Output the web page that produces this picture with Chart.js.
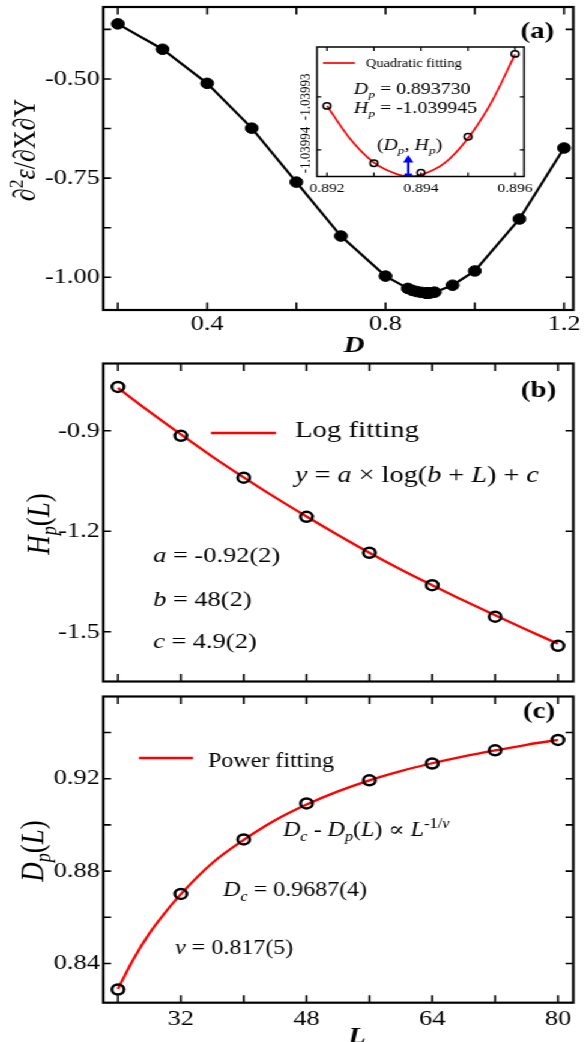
<!DOCTYPE html>
<html lang="en">
<head>
<meta charset="utf-8">
<title>Mixed derivative minimum and finite-size scaling</title>
<script src="https://cdn.jsdelivr.net/npm/chart.js@4.4.1/dist/chart.umd.min.js"></script>
<style>
  html, body { margin: 0; padding: 0; background: #fff; overflow: hidden; }
  /* the source figure is a bit wider than tall, so the whole drawing is stretched */
  #stage { position: relative; width: 488px; height: 1042px; transform: scaleX(1.20082); transform-origin: 0 0; }
  #stage canvas { position: absolute; }
</style>
</head>
<body>
<div id="stage">
  <canvas id="panel-a"></canvas>
  <canvas id="panel-inset"></canvas>
  <canvas id="panel-b"></canvas>
  <canvas id="panel-c"></canvas>
</div>
<script>
// Panel (a): d2E/dXdY against D
const dValues = [0.2, 0.3, 0.4, 0.5, 0.6, 0.7, 0.8, 0.85, 0.86, 0.87, 0.88, 0.89, 0.892, 0.893, 0.894, 0.895, 0.896, 0.90, 0.91, 0.95, 1.0, 1.1, 1.2];
const mixedDeriv = [-0.361, -0.425, -0.511, -0.624, -0.760, -0.896, -0.997, -1.028, -1.033, -1.036, -1.038, -1.0398, -1.03993, -1.03994, -1.03994, -1.03994, -1.03992, -1.0396, -1.0375, -1.020, -0.984, -0.853, -0.674];
const aXTicks = [0.2, 0.4, 0.6, 0.8, 1.0, 1.2];
const aXLabels = ['0.4', '0.8', '1.2'];
const aYTicks = [-1.0, -0.875, -0.75, -0.625, -0.5, -0.375];
const aYLabels = ['-0.50', '-0.75', '-1.00'];

// Inset: points around the minimum and the quadratic fit
const insetD = [0.892, 0.893, 0.894, 0.895, 0.896];
const insetH = [-1.0399317, -1.0399425, -1.0399443, -1.0399375, -1.0399219];
const quadD = [0.892, 0.8925, 0.893, 0.8935, 0.89373, 0.894, 0.8945, 0.895, 0.8955, 0.896];
const quadH = [-1.0399317, -1.0399380, -1.0399424, -1.0399446, -1.0399450, -1.0399447, -1.0399425, -1.0399378, -1.0399310, -1.0399220];
const peakD = [0.89373, 0.89373];
const peakH = [-1.039945, -1.0399419];
const insetXTicks = [0.892, 0.893, 0.894, 0.895, 0.896];
const insetXLabels = ['0.892', '0.894', '0.896'];
const insetYLabels = ['-1.03993', '-1.03994'];

// Panels (b) and (c): peak height and position against L
const sizes = [24, 32, 40, 48, 56, 64, 72, 80];
const hPeak = [-0.769, -0.915, -1.040, -1.157, -1.264, -1.361, -1.455, -1.542];
const dPeak = [0.8287, 0.8701, 0.8937, 0.9093, 0.9193, 0.9266, 0.9323, 0.9368];
const logFitL = [24, 28, 32, 36, 40, 44, 48, 52, 56, 60, 64, 68, 72, 76, 80];
const logFitH = [-0.772, -0.843, -0.911, -0.977, -1.039, -1.099, -1.156, -1.211, -1.264, -1.314, -1.361, -1.407, -1.451, -1.494, -1.536];
const powFitL = [24, 26, 28, 30, 32, 36, 40, 44, 48, 52, 56, 60, 64, 68, 72, 76, 80];
const powFitD = [0.829, 0.842, 0.853, 0.862, 0.870, 0.8835, 0.8935, 0.902, 0.9088, 0.9145, 0.9193, 0.9233, 0.9267, 0.9297, 0.9323, 0.9347, 0.9368];
const lTicks = [24, 32, 40, 48, 56, 64, 72, 80];
const lLabels = ['32', '48', '64', '80'];
const bYLabels = ['-0.9', '-1.2', '-1.5'];
const cYTicks = [0.84, 0.86, 0.88, 0.90, 0.92, 0.94];
const cYLabels = ['0.84', '0.88', '0.92'];

const SX = 586 / 488;
const SERIF = '"Liberation Serif", "Times New Roman", "DejaVu Serif", serif';
const RED = '#ff0000';

function pts(xs, ys) {
  return xs.map((x, i) => ({ x: x, y: ys[i] }));
}

// text made of runs: style letters i = italic, b = bold, _ = subscript, ^ = superscript
function drawRich(ctx, runs, x, y, size, align) {
  let width = 0;
  const parts = runs.map(([text, st = '']) => {
    const small = st.includes('_') || st.includes('^');
    const s = small ? size * 0.68 : size;
    const dy = st.includes('_') ? size * 0.24 : (st.includes('^') ? -size * 0.4 : 0);
    const f = (st.includes('i') ? 'italic ' : '') + (st.includes('b') ? 'bold ' : '') + s + 'px ' + SERIF;
    ctx.font = f;
    const part = { text: text, font: f, dx: width, dy: dy };
    width += ctx.measureText(text).width;
    return part;
  });
  const x0 = align === 'center' ? x - width / 2 : (align === 'right' ? x - width : x);
  ctx.textAlign = 'left';
  ctx.textBaseline = 'alphabetic';
  ctx.fillStyle = '#000';
  parts.forEach(p => {
    ctx.font = p.font;
    ctx.fillText(p.text, x0 + p.dx, y + p.dy);
  });
}

function drawRotated(ctx, runs, x, y, size) {
  ctx.save();
  ctx.translate(x, y);
  ctx.rotate(-Math.PI / 2);
  drawRich(ctx, runs, 0, 0, size, 'center');
  ctx.restore();
}

function legendLine(ctx, x1, x2, y, width) {
  ctx.save();
  ctx.strokeStyle = RED;
  ctx.lineWidth = width;
  ctx.beginPath();
  ctx.moveTo(x1, y);
  ctx.lineTo(x2, y);
  ctx.stroke();
  ctx.restore();
}

// box with inward ticks on all four sides, plus tick labels
function drawFrame(chart, st, axes) {
  const { ctx, chartArea: a } = chart;
  const x = chart.scales.x, y = chart.scales.y;
  ctx.save();
  ctx.strokeStyle = '#000';
  ctx.lineWidth = st.tickWidth;
  ctx.beginPath();
  x.ticks.forEach(t => {
    const px = x.getPixelForValue(t.value);
    ctx.moveTo(px, a.bottom); ctx.lineTo(px, a.bottom - st.tickV);
    ctx.moveTo(px, a.top); ctx.lineTo(px, a.top + st.tickV);
  });
  y.ticks.forEach(t => {
    const py = y.getPixelForValue(t.value);
    ctx.moveTo(a.left, py); ctx.lineTo(a.left + st.tickH, py);
    ctx.moveTo(a.right, py); ctx.lineTo(a.right - st.tickH, py);
  });
  ctx.stroke();
  ctx.lineWidth = st.frameWidth;
  ctx.strokeRect(a.left, a.top, a.right - a.left, a.bottom - a.top);

  ctx.fillStyle = '#000';
  ctx.font = st.labelSize + 'px ' + SERIF;
  ctx.textAlign = 'center';
  ctx.textBaseline = 'middle';
  (axes.x.labels || []).forEach(s => {
    ctx.fillText(s, x.getPixelForValue(parseFloat(s)), a.bottom + st.xGap);
  });
  (axes.y.labels || []).forEach(s => {
    const py = y.getPixelForValue(parseFloat(s));
    if (st.rotateY) {
      ctx.save();
      ctx.translate(a.left - st.yGap, py);
      ctx.rotate(-Math.PI / 2);
      ctx.textAlign = 'center';
      ctx.textBaseline = 'alphabetic';
      ctx.fillText(s, 0, 0);
      ctx.restore();
    } else {
      ctx.textAlign = 'right';
      ctx.fillText(s, a.left - st.yGap, py);
    }
  });
  ctx.restore();
}

function axisOptions(ax, fit) {
  return {
    type: 'linear',
    min: ax.min,
    max: ax.max,
    bounds: 'data',
    grid: { display: false },
    border: { display: false },
    ticks: { display: false },
    afterBuildTicks: sc => { sc.ticks = ax.ticks.map(v => ({ value: v })); },
    afterFit: fit
  };
}

// box.plot holds the plot rectangle in page pixels: [left, right, top, bottom]
function makePanel(id, box, axes, datasets, decorate) {
  const canvas = document.getElementById(id);
  canvas.width = box.width;
  canvas.height = box.height;
  canvas.style.left = box.left + 'px';
  canvas.style.top = box.top + 'px';
  const toX = px => px / SX - box.left;
  const toY = py => py - box.top;
  const plotL = toX(box.plot[0]), plotR = toX(box.plot[1]);
  const plotT = toY(box.plot[2]), plotB = toY(box.plot[3]);

  return new Chart(canvas, {
    type: 'scatter',
    data: { datasets: datasets },
    options: {
      responsive: false,
      animation: false,
      devicePixelRatio: 1,
      layout: { padding: { left: 0, top: plotT, right: box.width - plotR, bottom: 0 } },
      plugins: { legend: { display: false }, tooltip: { enabled: false } },
      scales: {
        x: axisOptions(axes.x, s => { s.height = box.height - plotB; }),
        y: axisOptions(axes.y, s => { s.width = plotL; })
      }
    },
    plugins: [{
      id: 'decor',
      beforeDatasetsDraw(chart) {
        if (!box.fill) return;
        const a = chart.chartArea;
        chart.ctx.save();
        chart.ctx.fillStyle = '#fff';
        chart.ctx.fillRect(a.left, a.top, a.right - a.left, a.bottom - a.top);
        chart.ctx.restore();
      },
      afterDraw(chart) {
        drawFrame(chart, box.style, axes);
        chart.ctx.save();
        decorate(chart.ctx, toX, toY);
        chart.ctx.restore();
      }
    }]
  });
}

const mainStyle = { frameWidth: 2.2, tickWidth: 1.6, tickV: 7.5, tickH: 6.5, labelSize: 22, yGap: 2.7 };

// ---- panel (a)
makePanel('panel-a',
  { left: 0, top: 0, width: 488, height: 358, plot: [103.3, 573.3, 7, 310], style: Object.assign({}, mainStyle, { xGap: 14 }) },
  {
    x: { min: 0.1673, max: 1.2208, ticks: aXTicks, labels: aXLabels },
    y: { min: -1.0825, max: -0.3185, ticks: aYTicks, labels: aYLabels }
  },
  [{
    data: pts(dValues, mixedDeriv),
    showLine: true,
    borderColor: '#000',
    borderWidth: 2.2,
    pointRadius: 5.3,
    pointBorderWidth: 1,
    pointBackgroundColor: '#000',
    pointBorderColor: '#000'
  }],
  (ctx, X, Y) => {
    drawRich(ctx, [['(a)', 'b']], X(520.7), Y(38), 24, 'left');
    drawRich(ctx, [['D', 'bi']], X(354), Y(352), 24, 'center');
    drawRotated(ctx, [['\u2202'], ['2', '^'], ['\u03b5', 'i'], ['/\u2202X\u2202Y']], X(35), Y(150), 26);
  });

// ---- inset of panel (a)
makePanel('panel-inset',
  { left: 240, top: 40, width: 210, height: 160, plot: [317, 524, 47, 176.5], fill: true,
    style: { frameWidth: 1.5, tickWidth: 1.2, tickV: 4, tickH: 3.5, labelSize: 13, xGap: 12, yGap: 6, rotateY: true } },
  {
    x: { min: 0.891787, max: 0.896192, ticks: insetXTicks, labels: insetXLabels },
    y: { min: -1.039945, max: -1.0399206, ticks: insetYLabels.map(parseFloat), labels: insetYLabels }
  },
  [{
    data: pts(peakD, peakH),
    showLine: true,
    borderColor: '#0000ff',
    borderWidth: 2,
    pointStyle: ['star', 'triangle'],
    pointRadius: [4, 3],
    pointBorderWidth: 2,
    pointBorderColor: '#0000ff',
    pointBackgroundColor: '#0000ff'
  }, {
    data: pts(insetD, insetH),
    pointRadius: 3.2,
    pointBorderWidth: 1.5,
    pointBorderColor: '#000',
    pointBackgroundColor: 'rgba(0,0,0,0)'
  }, {
    data: pts(quadD, quadH),
    showLine: true,
    cubicInterpolationMode: 'monotone',
    borderColor: RED,
    borderWidth: 1.7,
    pointRadius: 0
  }],
  (ctx, X, Y) => {
    legendLine(ctx, X(323), X(355), Y(63), 1.7);
    drawRich(ctx, [['Quadratic fitting']], X(366), Y(67), 12, 'left');
    drawRich(ctx, [['D', 'i'], ['p', 'i_'], [' = 0.893730']], X(354), Y(94), 16.5, 'left');
    drawRich(ctx, [['H', 'i'], ['p', 'i_'], [' = -1.039945']], X(354), Y(113), 16.5, 'left');
    drawRich(ctx, [['('], ['D', 'i'], ['p', 'i_'], [', '], ['H', 'i'], ['p', 'i_'], [')']], X(377), Y(150), 16.5, 'left');
  });

// ---- panel (b)
makePanel('panel-b',
  { left: 0, top: 356, width: 488, height: 333, plot: [103.3, 573.3, 361.7, 688.3], style: Object.assign({}, mainStyle, { xGap: 14 }) },
  {
    x: { min: 22.13, max: 81.95, ticks: lTicks, labels: [] },
    y: { min: -1.6486, max: -0.699, ticks: bYLabels.map(parseFloat), labels: bYLabels }
  },
  [{
    data: pts(sizes, hPeak),
    pointRadius: 5,
    pointBorderWidth: 2.5,
    pointBorderColor: '#000',
    pointBackgroundColor: 'rgba(0,0,0,0)'
  }, {
    data: pts(logFitL, logFitH),
    showLine: true,
    cubicInterpolationMode: 'monotone',
    borderColor: RED,
    borderWidth: 2.3,
    pointRadius: 0
  }],
  (ctx, X, Y) => {
    drawRich(ctx, [['(b)', 'b']], X(521), Y(397), 24, 'left');
    legendLine(ctx, X(211), X(276), Y(433), 2.5);
    drawRich(ctx, [['Log fitting']], X(295), Y(437), 24, 'left');
    drawRich(ctx, [['y', 'i'], [' = '], ['a', 'i'], [' \u00d7 log('], ['b', 'i'], [' + '], ['L', 'i'], [') + '], ['c', 'i']], X(295), Y(482), 23.5, 'left');
    drawRich(ctx, [['a', 'i'], [' = -0.92(2)']], X(153), Y(562), 22, 'left');
    drawRich(ctx, [['b', 'i'], [' = 48(2)']], X(153), Y(606), 22, 'left');
    drawRich(ctx, [['c', 'i'], [' = 4.9(2)']], X(153), Y(648), 22, 'left');
    drawRotated(ctx, [['H', 'i'], ['p', 'i_'], ['('], ['L', 'i'], [')']], X(49), Y(524), 27);
  });

// ---- panel (c)
makePanel('panel-c',
  { left: 0, top: 689, width: 488, height: 353, plot: [103.3, 573.3, 690, 1002.7], style: Object.assign({}, mainStyle, { xGap: 17 }) },
  {
    x: { min: 22.13, max: 81.95, ticks: lTicks, labels: lLabels },
    y: { min: 0.823, max: 0.9556, ticks: cYTicks, labels: cYLabels }
  },
  [{
    data: pts(sizes, dPeak),
    pointRadius: 5,
    pointBorderWidth: 2.5,
    pointBorderColor: '#000',
    pointBackgroundColor: 'rgba(0,0,0,0)'
  }, {
    data: pts(powFitL, powFitD),
    showLine: true,
    cubicInterpolationMode: 'monotone',
    borderColor: RED,
    borderWidth: 2.3,
    pointRadius: 0
  }],
  (ctx, X, Y) => {
    drawRich(ctx, [['(c)', 'b']], X(523), Y(718), 24, 'left');
    legendLine(ctx, X(139), X(193), Y(758), 2.5);
    drawRich(ctx, [['Power fitting']], X(208), Y(767), 20, 'left');
    drawRich(ctx, [['D', 'i'], ['c', 'i_'], [' - '], ['D', 'i'], ['p', 'i_'], ['('], ['L', 'i'], [') \u221d '], ['L', 'i'], ['-1/', '^'], ['\u03bd', 'i^']], X(283), Y(836), 20, 'left');
    drawRich(ctx, [['D', 'i'], ['c', 'i_'], [' = 0.9687(4)']], X(223), Y(896), 20, 'left');
    drawRich(ctx, [['\u03bd', 'i'], [' = 0.817(5)']], X(175), Y(954), 20, 'left');
    drawRich(ctx, [['L', 'bi']], X(357), Y(1043), 24, 'center');
    drawRotated(ctx, [['D', 'i'], ['p', 'i_'], ['('], ['L', 'i'], [')']], X(43), Y(851), 27);
  });
</script>
</body>
</html>
